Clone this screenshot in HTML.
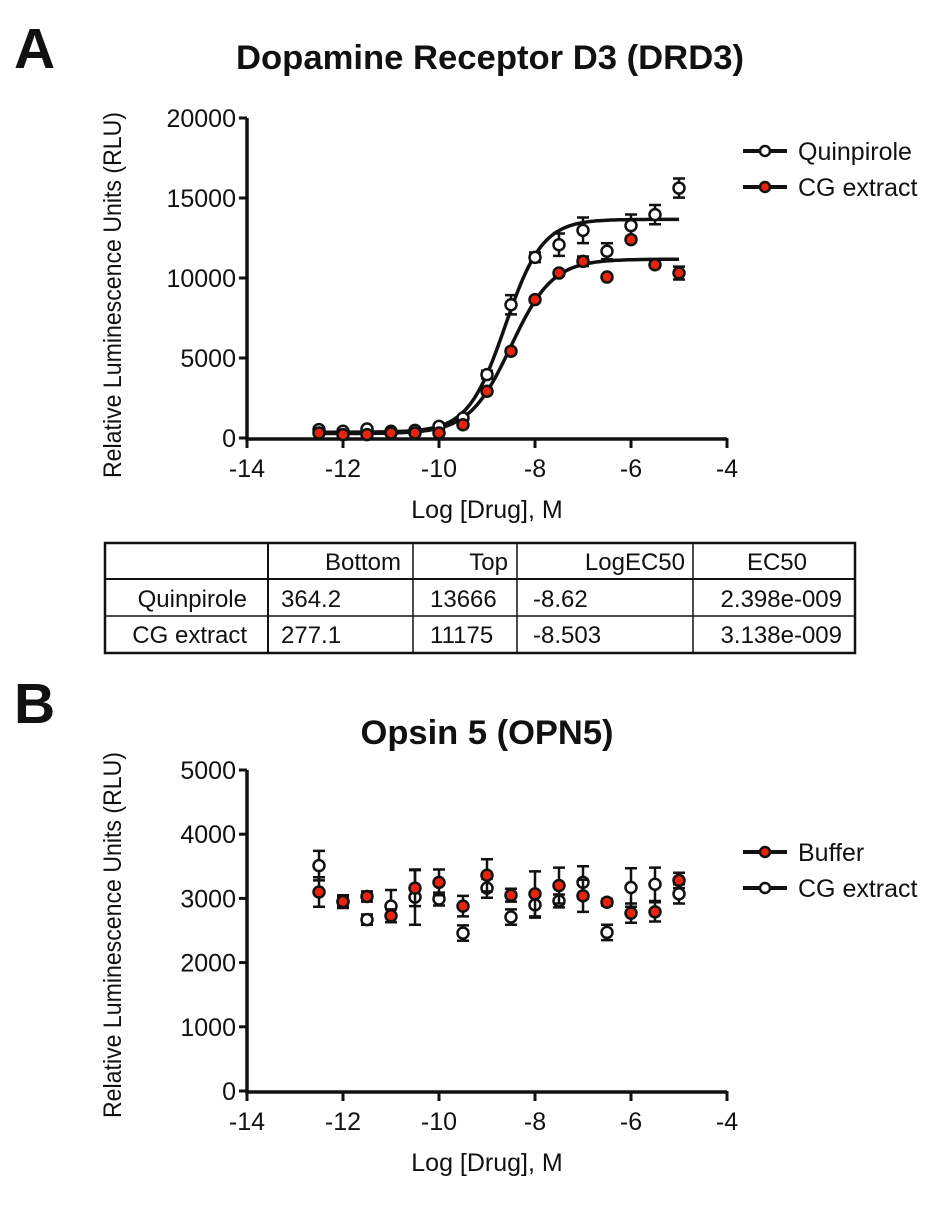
<!DOCTYPE html>
<html><head><meta charset="utf-8"><style>
body{margin:0;background:#fff;width:945px;height:1200px;overflow:hidden}
svg text{font-family:"Liberation Sans",Arial,sans-serif;fill:#111}
</style></head><body>
<svg id="fig" width="945" height="1200" xmlns="http://www.w3.org/2000/svg">
<text x="14" y="68" font-size="57" font-weight="bold">A</text>
<text x="490" y="69" font-size="34" font-weight="bold" text-anchor="middle" textLength="508" lengthAdjust="spacingAndGlyphs">Dopamine Receptor D3 (DRD3)</text>
<text x="14" y="723" font-size="57" font-weight="bold">B</text>
<text x="487" y="744" font-size="34" font-weight="bold" text-anchor="middle" textLength="253" lengthAdjust="spacingAndGlyphs">Opsin 5 (OPN5)</text>
<g id="chartA"></g>
<g id="chartB"></g>
<g id="table">
 <rect x="105" y="543" width="750" height="110" fill="none" stroke="#111" stroke-width="2.5"/>
 <line x1="105" y1="579" x2="855" y2="579" stroke="#111" stroke-width="2"/>
 <line x1="105" y1="616" x2="855" y2="616" stroke="#111" stroke-width="1.5"/>
 <line x1="268" y1="543" x2="268" y2="653" stroke="#111" stroke-width="2"/>
 <line x1="413" y1="543" x2="413" y2="653" stroke="#111" stroke-width="1.5"/>
 <line x1="517" y1="543" x2="517" y2="653" stroke="#111" stroke-width="1.5"/>
 <line x1="693" y1="543" x2="693" y2="653" stroke="#111" stroke-width="1.5"/>
 <g font-size="24">
 <text x="401" y="570" text-anchor="end">Bottom</text>
 <text x="508" y="570" text-anchor="end">Top</text>
 <text x="685" y="570" text-anchor="end">LogEC50</text>
 <text x="777" y="570" text-anchor="middle">EC50</text>
 <text x="247" y="607" text-anchor="end">Quinpirole</text>
 <text x="281" y="607">364.2</text>
 <text x="430" y="607">13666</text>
 <text x="533" y="607">-8.62</text>
 <text x="842" y="607" text-anchor="end">2.398e-009</text>
 <text x="247" y="643" text-anchor="end">CG extract</text>
 <text x="281" y="643">277.1</text>
 <text x="430" y="643">11175</text>
 <text x="533" y="643">-8.503</text>
 <text x="842" y="643" text-anchor="end">3.138e-009</text>
 </g>
</g>
</svg>
<script>
const xVals=[-12.5,-12,-11.5,-11,-10.5,-10,-9.5,-9,-8.5,-8,-7.5,-7,-6.5,-6,-5.5,-5];
const xTicks=[-14,-12,-10,-8,-6,-4];
const aQuin=[520,420,560,420,480,730,1250,3960,8330,11290,12080,12980,11670,13270,13960,15620];
const aQuinErr=[150,100,100,100,100,100,150,250,600,300,700,800,500,700,600,600];
const aCG=[310,210,210,310,310,310,830,2920,5420,8650,10310,11040,10060,12400,10830,10310];
const aCGErr=[100,100,100,100,100,100,150,150,150,150,150,300,100,150,150,400];
const aYTicks=[0,5000,10000,15000,20000];
const fitQuin=[364.2,13666,-8.62,1.12];
const fitCG=[277.1,11175,-8.503,1.0];
const bBuffer=[3100,2950,3030,2730,3160,3250,2880,3360,3050,3070,3200,3040,2940,2770,2790,3280];
const bBufferErr=[230,80,80,100,280,200,160,250,100,350,280,250,50,150,150,120];
const bCG=[3510,2950,2670,2880,3020,2990,2460,3160,2710,2900,2960,3250,2470,3170,3220,3070];
const bCGErr=[230,100,80,250,430,100,120,150,120,200,100,250,120,300,260,150];
const bYTicks=[0,1000,2000,3000,4000,5000];
const NS="http://www.w3.org/2000/svg";
function mk(p,tag,at){const e=document.createElementNS(NS,tag);for(const k in at)e.setAttribute(k,at[k]);p.appendChild(e);return e;}
function chart(g,cfg){
 const X=v=>247+(v+14)/10*(727-247);
 const Y=v=>cfg.y0-(v/cfg.ymax)*(cfg.y0-cfg.y1);
 const ax=mk(g,'path',{d:`M247 ${cfg.y1} V${cfg.y0+1} H727`,fill:'none',stroke:'#111','stroke-width':3.5});
 
 
 cfg.yt.forEach(t=>{
  mk(g,'line',{x1:239,x2:247,y1:Y(t),y2:Y(t),stroke:'#111','stroke-width':3});
  const tx=mk(g,'text',{x:236,y:Y(t)+9,'font-size':25,'text-anchor':'end'});tx.textContent=t;
  
  
 });
 xTicks.forEach(t=>{
  mk(g,'line',{x1:X(t),x2:X(t),y1:cfg.y0,y2:cfg.y0+10,stroke:'#111','stroke-width':3});
  const tx=mk(g,'text',{x:X(t),y:cfg.y0+39,'font-size':25,'text-anchor':'middle'});tx.textContent=String(t);
  
  
 });
 const xt=mk(g,'text',{x:487,y:cfg.y0+80,'font-size':25,'text-anchor':'middle'});xt.textContent='Log [Drug], M';
 
 
 const yl=mk(g,'text',{x:0,y:0,'font-size':25,'text-anchor':'middle',textLength:366,lengthAdjust:'spacingAndGlyphs',transform:`translate(121 ${cfg.ylc}) rotate(-90)`});yl.textContent='Relative Luminescence Units (RLU)';
 
 
 cfg.fits.forEach(f=>{
  let d='';for(let i=0;i<=150;i++){const x=-12.5+i*7.5/150;const y=f[0]+(f[1]-f[0])/(1+Math.pow(10,(f[2]-x)*f[3]));d+=(i?'L':'M')+X(x).toFixed(1)+' '+Y(y).toFixed(1);}
  const p=mk(g,'path',{d,fill:'none',stroke:'#111','stroke-width':3.5});
  
  
 });
 cfg.series.forEach(s=>{
  s.v.forEach((v,i)=>{
   const x=X(xVals[i]),y=Y(v),e=(cfg.y0-cfg.y1)*s.e[i]/cfg.ymax;
   mk(g,'path',{d:`M${x} ${y-e}V${y+e}M${x-6} ${y-e}H${x+6}M${x-6} ${y+e}H${x+6}`,stroke:'#111','stroke-width':2.5,fill:'none'});
   const c=mk(g,'circle',{cx:x,cy:y,r:5.5,fill:s.fill,stroke:'#111','stroke-width':2.5});
   
   
  });
 });
 cfg.legend.forEach((l,i)=>{
  const ly=cfg.ly+i*36;
  mk(g,'line',{x1:743,x2:787,y1:ly,y2:ly,stroke:'#111','stroke-width':4});
  mk(g,'circle',{cx:765,cy:ly,r:5,fill:l.fill,stroke:'#111','stroke-width':2.5});
  const t=mk(g,'text',{x:798,y:ly+9,'font-size':25});t.textContent=l.label;
  
  
 });
}
chart(document.getElementById('chartA'),{y0:438,y1:118,ymax:20000,yt:aYTicks,ylc:295,fits:[fitQuin,fitCG],
 series:[{v:aQuin,e:aQuinErr,fill:'#fff',name:'quinpirole'},{v:aCG,e:aCGErr,fill:'#e8250c',name:'cg-extract'}],
 legend:[{label:'Quinpirole',fill:'#fff'},{label:'CG extract',fill:'#e8250c'}],ly:151});
chart(document.getElementById('chartB'),{y0:1091,y1:770,ymax:5000,yt:bYTicks,ylc:935,fits:[],
 series:[{v:bCG,e:bCGErr,fill:'#fff',name:'cg-extract'},{v:bBuffer,e:bBufferErr,fill:'#e8250c',name:'buffer'}],
 legend:[{label:'Buffer',fill:'#e8250c'},{label:'CG extract',fill:'#fff'}],ly:852});
</script>
</body></html>
